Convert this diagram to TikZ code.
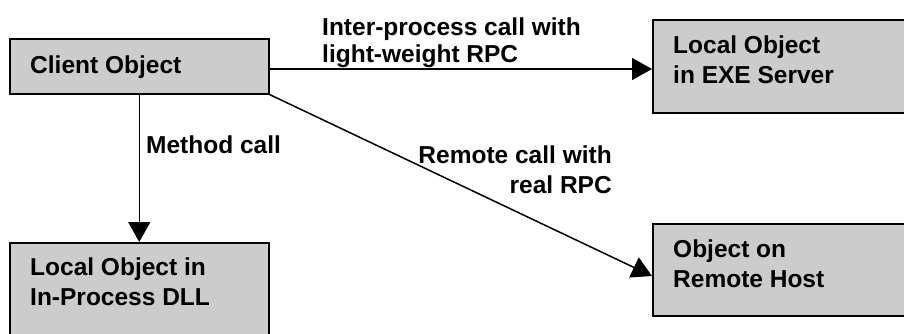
\documentclass[tikz,border=0pt]{standalone}
\usepackage{fontspec}
\setmainfont{Liberation Sans}
\usetikzlibrary{arrows.meta}
\definecolor{boxgray}{HTML}{CCCCCC}
\tikzset{
  box/.style={draw=black, line width=1.5pt, fill=boxgray, rectangle, inner sep=0pt, anchor=north west},
  txt/.style={inner sep=0pt, anchor=base west, align=left, font=\fontsize{24.5}{29.5}\selectfont\bfseries},
  rtxt/.style={txt, anchor=base east, align=right},
  arr/.style={line width=1.5pt, -{Triangle[length=20pt,width=22pt]}},
}
\begin{document}
\begin{tikzpicture}[x=1pt, y=-1pt]
\clip (0,0) rectangle (904,333);
\useasboundingbox (0,0) rectangle (904,333);

% object boxes
\node[box, minimum width=259pt, minimum height=55pt] (client) at (9,38) {};
\node[box, minimum width=270pt, minimum height=93pt] (exe) at (652,19) {};
\node[box, minimum width=259pt, minimum height=110pt] (dll) at (9,242) {};
\node[box, minimum width=270pt, minimum height=92pt] (remote) at (652,223) {};

% box captions (base anchors sit on the last line)
\node[txt] (clientcap) at (30,73) {Client Object};
\node[txt] (execap) at (673,83) {Local Object\\in EXE Server};
\node[txt] (dllcap) at (30,305) {Local Object in\\In-Process DLL};
\node[txt] (remotecap) at (673,287) {Object on\\Remote Host};

% connector captions
\node[txt, font=\fontsize{24.5}{27}\selectfont\bfseries] (lrpc) at (322,62) {Inter-process call with\\light-weight RPC};
\node[txt] (mcall) at (146,153) {Method call};
\node[rtxt] (rrpc) at (612,193) {Remote call with\\real RPC};

% connectors
\coordinate (hline) at (0,69);
\coordinate (rtip) at (0,276);
\draw[arr] (client.east |- hline) -- (exe.west |- hline);
\draw[arr] (client.south) -- (dll.north);
\draw[arr] (client.south east) -- (remote.west |- rtip);
\end{tikzpicture}
\end{document}
